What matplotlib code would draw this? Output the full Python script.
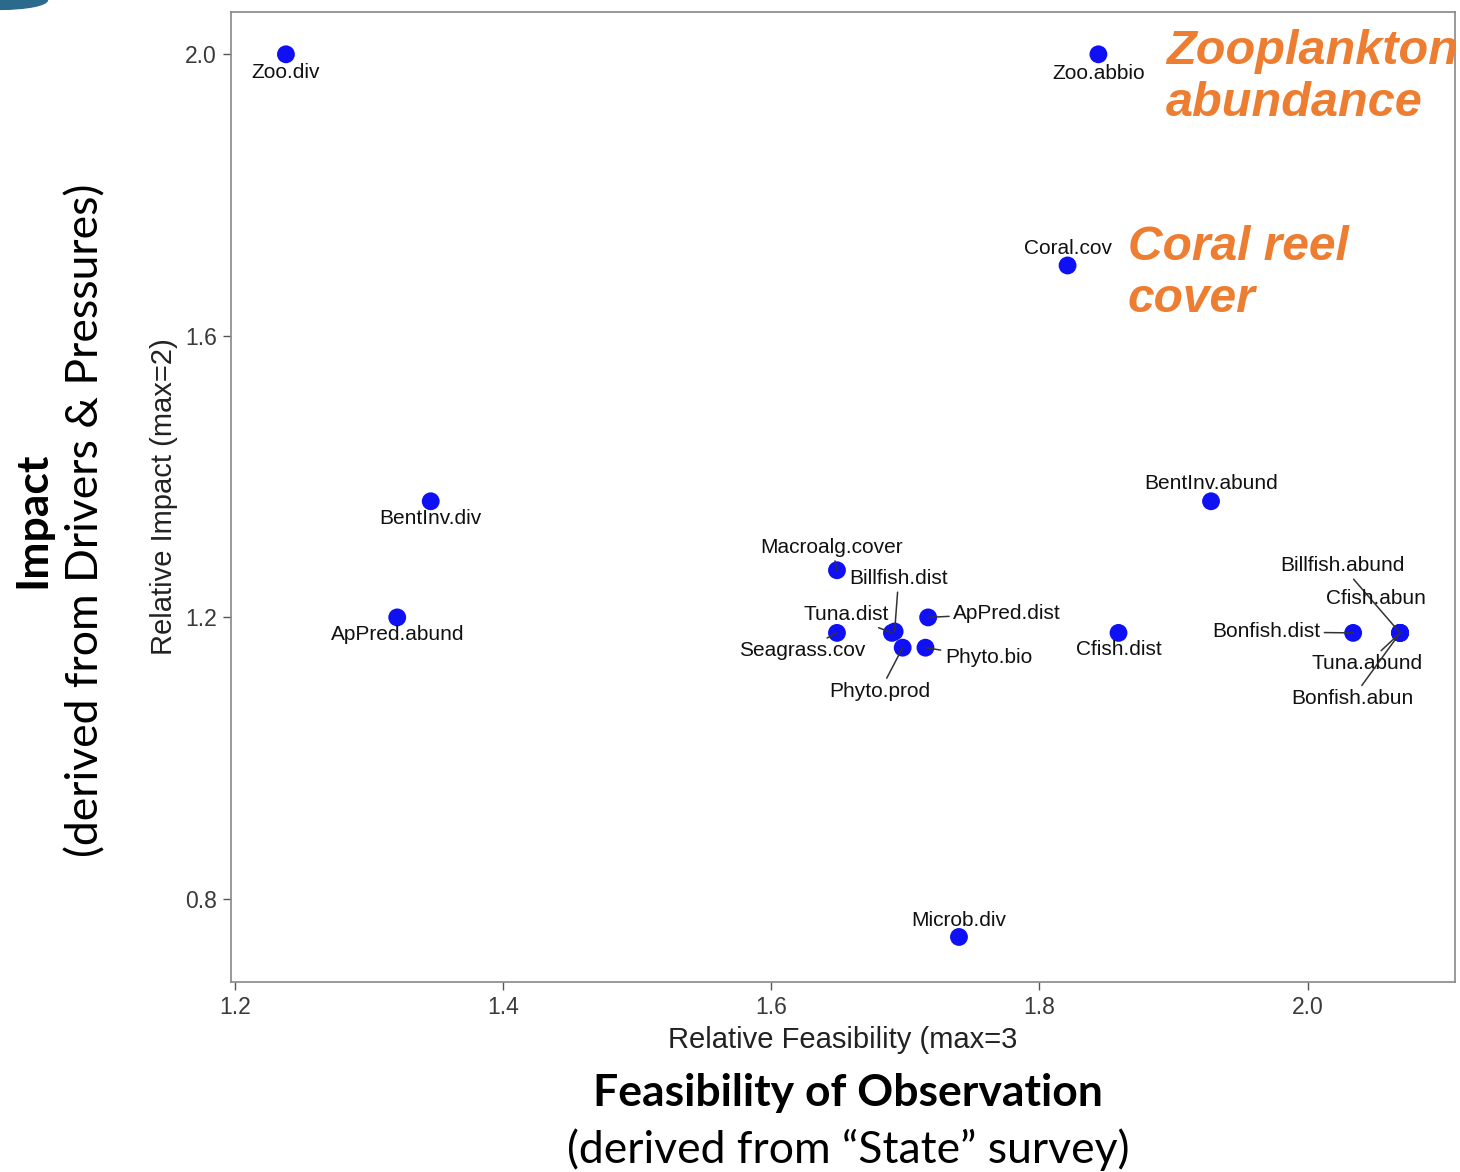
import matplotlib
matplotlib.use("Agg")
from matplotlib import pyplot as plt
from matplotlib.patches import Ellipse


# indicator names and scores
names = [
    "Zoo.div", "Zoo.abbio", "Coral.cov", "BentInv.div", "ApPred.abund",
    "BentInv.abund", "Macroalg.cover", "Billfish.dist", "Tuna.dist",
    "Seagrass.cov", "ApPred.dist", "Phyto.prod", "Phyto.bio", "Cfish.dist",
    "Bonfish.dist", "Billfish.abund", "Cfish.abun", "Tuna.abund",
    "Bonfish.abun", "Microb.div",
]
feasibility = [
    1.238, 1.844, 1.821, 1.346, 1.321,
    1.928, 1.649, 1.692, 1.690,
    1.649, 1.717, 1.698, 1.715, 1.859,
    2.034, 2.069, 2.069, 2.069,
    2.069, 1.740,
]
impact = [
    2.0, 2.0, 1.7, 1.365, 1.2,
    1.365, 1.267, 1.180, 1.178,
    1.178, 1.2, 1.157, 1.157, 1.178,
    1.178, 1.178, 1.178, 1.178,
    1.178, 0.746,
]

x_ticks = [1.2, 1.4, 1.6, 1.8, 2.0]
y_ticks = [0.8, 1.2, 1.6, 2.0]

# label placement (offset in pixels from the point) and leader lines
label_offsets = {
    "Zoo.div": (0, -18), "Zoo.abbio": (0, -19), "Coral.cov": (0, 17),
    "BentInv.div": (0, -17), "ApPred.abund": (0, -17),
    "BentInv.abund": (0, 18), "Macroalg.cover": (-5, 23),
    "Billfish.dist": (4, 53), "Tuna.dist": (-46, 18),
    "Seagrass.cov": (-35, -18), "ApPred.dist": (79, 4),
    "Phyto.prod": (-23, -44), "Phyto.bio": (63, -10),
    "Cfish.dist": (0, -17), "Bonfish.dist": (-87, 1),
    "Billfish.abund": (-58, 67), "Cfish.abun": (-24, 34),
    "Tuna.abund": (-33, -31), "Bonfish.abun": (-48, -66),
    "Microb.div": (0, 16),
}
leaders = {"Billfish.dist", "Tuna.dist", "Seagrass.cov", "ApPred.dist",
           "Phyto.prod", "Phyto.bio", "Bonfish.dist", "Billfish.abund",
           "Tuna.abund", "Bonfish.abun", "Macroalg.cover"}

LABEL_FONT = "Liberation Sans"
SLIDE_FONT = "Lato"
ORANGE = "#ED7D31"


def main():
    fig = plt.figure(figsize=(14.6, 11.72), dpi=100)
    ax = fig.add_axes([0.1582, 0.1621, 0.8384, 0.8276])

    ax.scatter(feasibility, impact, s=165, color="#1010F5", zorder=3,
               edgecolors="none")

    for name, x, y in zip(names, feasibility, impact):
        dx, dy = label_offsets[name]
        arrow = None
        if name in leaders:
            arrow = dict(arrowstyle="-", color="#333333", lw=1.1,
                         shrinkA=1, shrinkB=0)
        ax.annotate(name, (x, y), xytext=(dx, dy), textcoords="offset pixels",
                    ha="center", va="center", fontsize=15,
                    family=LABEL_FONT, color="#111111", arrowprops=arrow,
                    zorder=4)

    ax.set_xlim(1.197, 2.110)
    ax.set_ylim(0.682, 2.060)
    ax.set_xticks(x_ticks)
    ax.set_yticks(y_ticks)
    ax.set_xticklabels([f"{t:.1f}" for t in x_ticks])
    ax.set_yticklabels([f"{t:.1f}" for t in y_ticks])
    ax.tick_params(length=6, width=1, color="#555555", labelsize=16.5,
                   labelcolor="#3a3a3a", pad=4)
    for lab in ax.get_xticklabels() + ax.get_yticklabels():
        lab.set_family(LABEL_FONT)
    for side in ax.spines.values():
        side.set_color("#888888")
        side.set_linewidth(1.2)

    ax.set_xlabel("Relative Feasibility (max=3", fontsize=21,
                  family=LABEL_FONT, color="#222222", labelpad=5)
    ax.set_ylabel("Relative Impact (max=2)", fontsize=21,
                  family=LABEL_FONT, color="#222222", labelpad=5)

    # slide annotations
    ax.text(1166 / 1460, 1 - 77 / 1172, "Zooplankton\nabundance",
            transform=fig.transFigure, fontsize=35, color=ORANGE,
            fontweight="bold", fontstyle="italic", family=LABEL_FONT,
            ha="left", va="center", linespacing=1.2)
    ax.text(1128 / 1460, 1 - 274 / 1172, "Coral reel\ncover",
            transform=fig.transFigure, fontsize=34.5, color=ORANGE,
            fontweight="bold", fontstyle="italic", family=LABEL_FONT,
            ha="left", va="center", linespacing=1.2)

    fig.text(848 / 1460, 1 - 1093 / 1172, "Feasibility of Observation",
             fontsize=32, fontweight="bold", family=SLIDE_FONT,
             ha="center", va="center")
    fig.text(848 / 1460, 1 - 1150 / 1172, "(derived from \u201cState\u201d survey)",
             fontsize=32, family=SLIDE_FONT, ha="center", va="center")
    fig.text(32 / 1460, 1 - 520 / 1172, "Impact", rotation=90,
             fontsize=32, fontweight="bold", family=SLIDE_FONT,
             ha="center", va="center")
    fig.text(86 / 1460, 1 - 520 / 1172, "(derived from Drivers & Pressures)",
             rotation=90, fontsize=32, family=SLIDE_FONT,
             ha="center", va="center")

    # corner of the slide decoration
    fig.patches.append(Ellipse((0.0, 1.0), 0.065, 0.016,
                               transform=fig.transFigure,
                               color="#2A6A8C", zorder=0))

    fig.savefig("out.png", dpi=100, facecolor="white")


if __name__ == "__main__":
    main()
